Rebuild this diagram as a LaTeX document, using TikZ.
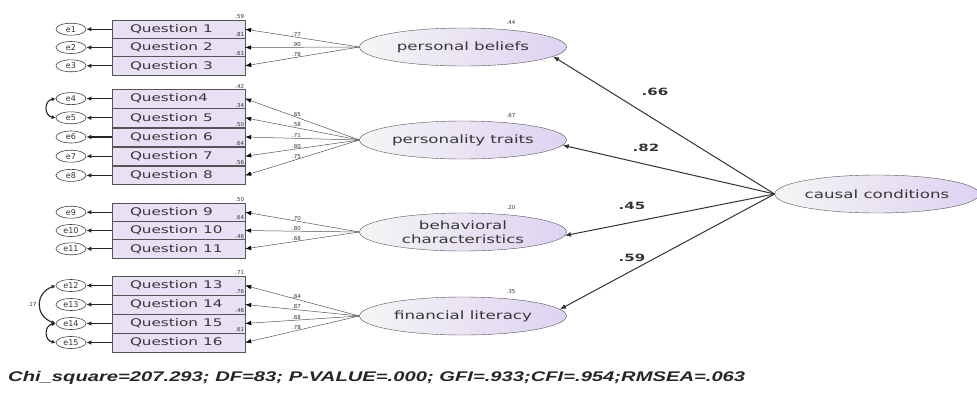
\documentclass[tikz,border=0pt]{standalone}
\usepackage{fontspec}
\usepackage{graphicx}
\setmainfont{DejaVu Sans}
\newfontfamily\statfont{Liberation Sans}
\usetikzlibrary{shapes.geometric,arrows.meta}
\definecolor{lav}{RGB}{233,224,246}
\definecolor{lavdark}{RGB}{222,210,242}
\definecolor{edge}{RGB}{85,85,85}
\definecolor{ink}{RGB}{55,55,55}
% wide-set labels
\newcommand\widetext[1]{\scalebox{1.45}[1]{#1}}

\begin{document}
\begin{tikzpicture}[x=1pt,y=-1pt,
  obs/.style={draw=edge, fill=lav, minimum width=133pt, minimum height=18.4pt,
    inner sep=0pt, text=ink, font=\fontsize{10.5}{11}\selectfont},
  err/.style={ellipse, draw=black!75, line width=0.6pt, fill=white, minimum width=30pt,
    minimum height=12pt, inner sep=0pt, text=black!80, font=\fontsize{8}{8}\selectfont},
  lat/.style={ellipse, draw=edge, left color=gray!8, right color=lavdark,
    minimum width=207pt, minimum height=38pt, inner sep=0pt, text=ink,
    font=\fontsize{11.5}{14}\selectfont, align=center},
  tinynum/.style={font=\fontsize{5.5}{6}\selectfont, text=ink, inner sep=1pt},
  pathnum/.style={font=\bfseries\fontsize{10}{11}\selectfont, text=black!80, inner sep=1pt},
  errarrow/.style={draw=black!85, line width=1.3pt, -{Latex[length=5pt,width=4.5pt]}},
  loading/.style={draw=edge, line width=0.5pt, -{Latex[length=6pt,width=4.5pt,color=black]}},
  struct/.style={draw=black!80, line width=1pt, -{Latex[length=6pt,width=5pt]}},
  cov/.style={draw=black!85, line width=1.1pt, {Latex[length=4pt,width=4pt]}-{Latex[length=4pt,width=4pt]}}
]
\useasboundingbox (0,0) rectangle (977,392);
\fill[white] (0,0) rectangle (977,392);

% ---------- observed indicators ----------
\foreach \q/\y/\t in {q1/29.2/Question 1, q2/47.5/Question 2, q3/65.8/Question 3,
    q4/98.6/Question4, q5/117.8/Question 5, q6/137.0/Question 6,
    q7/156.2/Question 7, q8/175.4/Question 8,
    q9/212.2/Question 9, q10/230.5/Question 10, q11/248.8/Question 11,
    q13/285.5/Question 13, q14/304.5/Question 14, q15/323.5/Question 15,
    q16/342.5/Question 16}
  \node[obs, text width=133pt, align=left] (\q) at (178.5,\y) {\hspace{18pt}\widetext{\t}};

% squared multiple correlations at the top-right corner of each indicator
\foreach \q/\r in {q1/.59,q2/.81,q3/.61,q4/.42,q5/.34,q6/.50,q7/.64,q8/.56,
                   q9/.50,q10/.64,q11/.46,q13/.71,q14/.76,q15/.46,q16/.61}
  \node[tinynum, anchor=south east] at (\q.north east) {\r};

% ---------- error terms ----------
\foreach \e/\q in {e1/q1,e2/q2,e3/q3,e4/q4,e5/q5,e6/q6,e7/q7,e8/q8,
                   e9/q9,e10/q10,e11/q11,e12/q13,e13/q14,e14/q15,e15/q16}{
  \node[err] (\e) at (71,0 |- \q) {\e};
  \draw[errarrow] (\q.west) -- (\e.east);
}

% error covariances
\draw[cov] (e4.west) to[out=190,in=170,looseness=1.6] (e5.west);
\draw[cov] (e12.west) to[out=200,in=160,looseness=1.5] node[tinynum, left=2pt] {.17} (e14.west);
\draw[cov] (e14.west) to[out=190,in=170,looseness=1.6] (e15.west);

% ---------- latent factors ----------
\node[lat] (pb) at (463,47)  {\widetext{personal beliefs}};
\node[lat] (pt) at (463,140) {\widetext{personality traits}};
\node[lat] (bc) at (463,232) {\widetext{behavioral}\\\widetext{characteristics}};
\node[lat] (fl) at (463,316) {\widetext{financial literacy}};
\node[lat, minimum width=198pt] (cc) at (877,194) {\widetext{causal conditions}};

\foreach \l/\r in {pb/.44,pt/.67,bc/.20,fl/.35}
  \node[tinynum, anchor=south] at ([xshift=48pt,yshift=2pt]\l.north) {\r};

% ---------- factor loadings ----------
\foreach \l/\q/\v in {pb/q1/.77,pb/q2/.90,pb/q3/.78,
                      pt/q4/.65,pt/q5/.58,pt/q6/.71,pt/q7/.80,pt/q8/.75,
                      bc/q9/.70,bc/q10/.80,bc/q11/.68,
                      fl/q13/.84,fl/q14/.87,fl/q15/.68,fl/q16/.78}
  \draw[loading] (\l.west) -- node[tinynum, pos=0.55, above=-0.5pt] {\v} (\q.east);

% ---------- structural paths ----------
\draw[struct] (cc.west) -- (pb.-6);
\draw[struct] (cc.west) -- (pt.-3);
\draw[struct] (cc.west) -- (bc.-2);
\draw[struct] (cc.west) -- (fl.4);

\node[pathnum] (r1) at (655,92)  {\scalebox{1.5}[1]{.66}};
\node[pathnum] (r2) at (646,148) {\scalebox{1.5}[1]{.82}};
\node[pathnum] (r3) at (632,206) {\scalebox{1.5}[1]{.45}};
\node[pathnum] (r4) at (632,258) {\scalebox{1.5}[1]{.59}};

% ---------- fit statistics ----------
\node[anchor=west, inner sep=0pt, text=black!85] (fit) at (8,378)
  {\resizebox{737pt}{\height}{\statfont\bfseries\itshape\fontsize{14}{16}\selectfont
   Chi\_square=207.293; DF=83; P-VALUE=.000; GFI=.933;CFI=.954;RMSEA=.063}};
\end{tikzpicture}
\end{document}
